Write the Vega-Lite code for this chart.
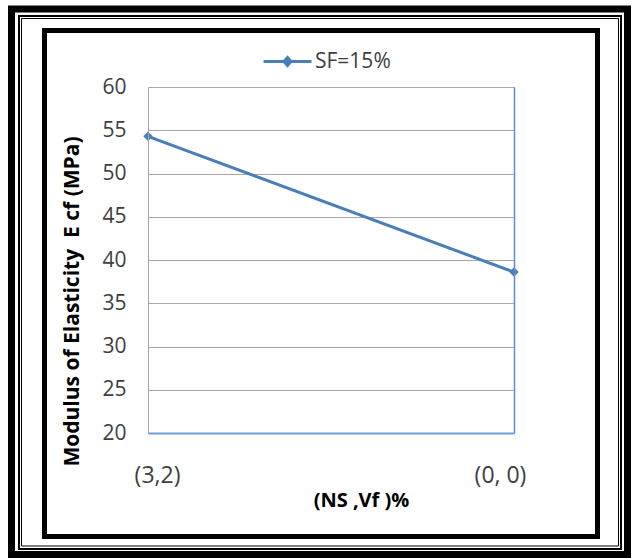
{
  "$schema": "https://vega.github.io/schema/vega-lite/v6.json",
  "width": 366,
  "height": 346,
  "autosize": "none",
  "padding": {"left": 148, "top": 87, "right": 124, "bottom": 125},
  "background": "white",
  "config": {
    "view": {"stroke": null},
    "font": "Open Sans"
  },
  "data": {
    "values": [
      {"mix": "(3,2)", "E": 54.3, "series": "SF=15%"},
      {"mix": "(0, 0)", "E": 38.6, "series": "SF=15%"}
    ]
  },
  "layer": [
    {
      "data": {"values": [{}]},
      "mark": {"type": "rect", "fill": null, "stroke": "black", "strokeWidth": 7, "clip": false},
      "encoding": {
        "x": {"value": -136.5}, "x2": {"value": 479.5},
        "y": {"value": -78}, "y2": {"value": 467.5}
      }
    },
    {
      "data": {"values": [{}]},
      "mark": {"type": "rect", "fill": null, "stroke": "black", "strokeWidth": 2, "clip": false},
      "encoding": {
        "x": {"value": -129}, "x2": {"value": 473},
        "y": {"value": -71}, "y2": {"value": 462}
      }
    },
    {
      "data": {"values": [{}]},
      "mark": {"type": "rect", "fill": null, "stroke": "black", "strokeWidth": 1, "clip": false},
      "encoding": {
        "x": {"value": -126.5}, "x2": {"value": 470.5},
        "y": {"value": -68.5}, "y2": {"value": 459}
      }
    },
    {
      "data": {"values": [{}]},
      "mark": {"type": "rect", "fill": null, "stroke": "black", "strokeWidth": 5, "clip": false},
      "encoding": {
        "x": {"value": -103.5}, "x2": {"value": 449.5},
        "y": {"value": -56.5}, "y2": {"value": 449.5}
      }
    },
    {
      "mark": {
        "type": "line",
        "strokeWidth": 3,
        "point": {"shape": "diamond", "size": 90, "filled": true}
      },
      "encoding": {
        "x": {
          "field": "mix",
          "type": "nominal",
          "sort": null,
          "scale": {"type": "point", "padding": 0},
          "axis": {
            "title": "(NS ,Vf )%",
            "titleFont": "Open Sans",
            "titleFontWeight": "bold",
            "titleFontSize": 20,
            "titleColor": "black",
            "titleX": 213,
            "titleY": 67,
            "titleBaseline": "middle",
            "titleAlign": "center",
            "labelAngle": 0,
            "labelFontSize": 23,
            "labelColor": "#404040",
            "labelBaseline": "middle",
            "labelPadding": 42,
            "labelOffset": {"condition": {"test": "datum.value === '(3,2)'", "value": 9}, "value": -14},
            "ticks": false,
            "domain": true,
            "domainColor": "#6f9bd6",
            "domainWidth": 2,
            "grid": true,
            "gridColor": {"condition": {"test": "datum.value === '(0, 0)'", "value": "#5b8fd4"}, "value": "#a6a6a6"},
            "gridWidth": {"condition": {"test": "datum.value === '(0, 0)'", "value": 1.5}, "value": 1},
            "zindex": 1
          }
        },
        "y": {
          "field": "E",
          "type": "quantitative",
          "scale": {"domain": [20, 60], "nice": false, "zero": false},
          "axis": {
            "values": [20, 25, 30, 35, 40, 45, 50, 55, 60],
            "title": "Modulus of Elasticity\u00a0\u00a0E cf (MPa)",
            "titleFont": "Open Sans",
            "titleFontWeight": "bold",
            "titleFontSize": 21,
            "titleColor": "black",
            "titleAngle": 270,
            "titleX": -76,
            "titleY": 214,
            "titleAlign": "center",
            "titleBaseline": "middle",
            "labelFontSize": 21,
            "labelColor": "#404040",
            "labelPadding": 22,
            "ticks": false,
            "domain": false,
            "grid": true,
            "gridColor": "#a6a6a6",
            "gridWidth": 1
          }
        },
        "color": {
          "field": "series",
          "type": "nominal",
          "scale": {"range": ["#4a7ebb"]},
          "legend": {
            "title": null,
            "orient": "none",
            "legendX": 114,
            "legendY": -51,
            "padding": 0,
            "symbolType": "M-1,0L1,0M0,-0.17L0.15,0L0,0.17L-0.15,0Z",
            "symbolSize": 2304,
            "symbolStrokeWidth": 3,
            "symbolStrokeColor": "#4a7ebb",
            "symbolFillColor": "#4a7ebb",
            "labelFontSize": 21,
            "labelColor": "#404040",
            "labelOffset": 2
          }
        }
      }
    }
  ]
}
